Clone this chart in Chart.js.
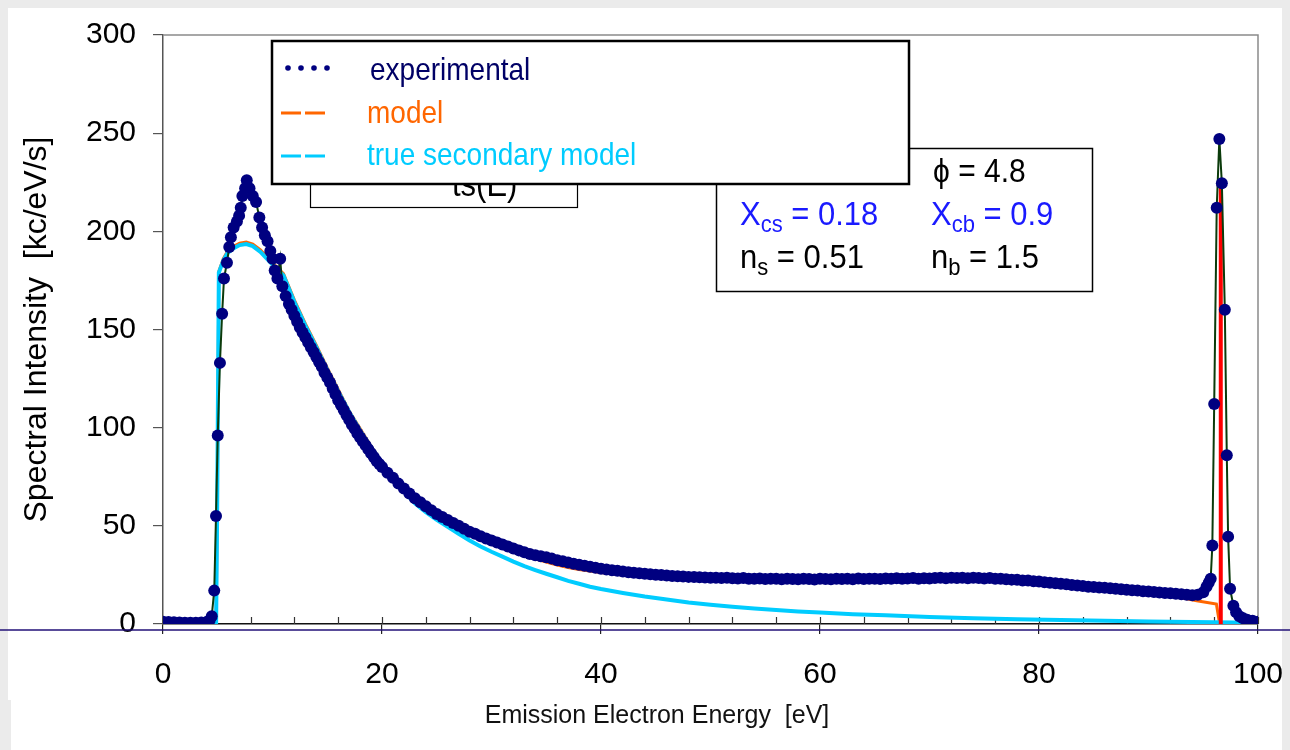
<!DOCTYPE html>
<html>
<head>
<meta charset="utf-8">
<title>Emission electron spectrum</title>
<script src="https://cdn.jsdelivr.net/npm/chart.js@4.4.1/dist/chart.umd.min.js"></script>
<style>
  html, body { margin: 0; padding: 0; background: #ebebeb; }
  canvas { display: block; }
</style>
</head>
<body>
<canvas id="spectrum" width="1290" height="750"></canvas>
<script>
// measured spectrum (energy in eV, intensity in kc/eV/s)
const expEnergy = [
  0, 0.5, 1.0, 1.5, 2.0, 2.5, 3.0, 3.5, 4.0, 4.25, 4.45, 4.68, 4.84, 5.0, 5.2, 5.4, 5.57, 5.84,
  6.05, 6.2, 6.45, 6.75, 6.95, 7.1, 7.25, 7.5, 7.65, 7.9, 8.2, 8.5, 8.8, 9.05, 9.3, 9.55, 9.8,
  10.0, 10.2, 10.45, 10.7, 10.9, 11.2, 11.5, 11.75, 12.0, 12.25, 12.5, 12.75, 13.0, 13.25, 13.5,
  13.75, 14.0, 14.25, 14.5, 14.75, 15.0, 15.25, 15.5, 15.75, 16.0, 16.25, 16.5, 16.75, 17.0,
  17.25, 17.5, 17.75, 18.0, 18.25, 18.5, 18.75, 19.0, 19.25, 19.5, 19.75, 20.0,
  20.5, 21, 21.5, 22, 22.5, 23, 23.5, 24, 24.5, 25, 25.5, 26, 26.5, 27, 27.5, 28, 28.5, 29, 29.5,
  30, 30.5, 31, 31.5, 32, 32.5, 33, 33.5, 34, 34.5, 35, 35.5, 36, 36.5, 37, 37.5, 38, 38.5, 39, 39.5,
  40, 40.5, 41, 41.5, 42, 42.5, 43, 43.5, 44, 44.5, 45, 45.5, 46, 46.5, 47, 47.5, 48, 48.5, 49, 49.5,
  50, 50.5, 51, 51.5, 52, 52.5, 53, 53.5, 54, 54.5, 55, 55.5, 56, 56.5, 57, 57.5, 58, 58.5, 59, 59.5,
  60, 60.5, 61, 61.5, 62, 62.5, 63, 63.5, 64, 64.5, 65, 65.5, 66, 66.5, 67, 67.5, 68, 68.5, 69, 69.5,
  70, 70.5, 71, 71.5, 72, 72.5, 73, 73.5, 74, 74.5, 75, 75.5, 76, 76.5, 77, 77.5, 78, 78.5, 79, 79.5,
  80, 80.5, 81, 81.5, 82, 82.5, 83, 83.5, 84, 84.5, 85, 85.5, 86, 86.5, 87, 87.5, 88, 88.5, 89, 89.5,
  90, 90.5, 91, 91.5, 92, 92.5, 93, 93.5, 94, 94.5, 95.0, 95.3, 95.5, 95.68, 95.83, 96.0, 96.23,
  96.47, 96.7, 96.97, 97.15, 97.27, 97.45, 97.75, 98.0, 98.3, 98.6, 99.0, 99.5, 100
];
const expIntensity = [
  1.2, 1.0, 0.9, 0.8, 0.7, 0.7, 0.7, 0.8, 1.0, 1.8, 4.0, 17, 55, 96, 133, 158, 176, 184,
  192, 197, 202, 205, 208, 212, 218, 222, 226, 222, 218, 215, 207, 202, 198, 195, 190,
  186, 180, 176, 186, 172, 167, 163, 160, 157, 154, 151, 148.5, 146, 143.5, 141,
  138.5, 136, 133.5, 131, 128, 125.5, 123, 120, 117, 114, 111.5, 109, 106.5, 104,
  101.5, 99.5, 97, 95, 93, 91, 89, 87, 85, 83, 81.5, 80,
  77, 74.5, 71.5, 69, 66.5, 64, 62, 60, 58, 56, 54.5, 53, 51.5, 50, 48.5, 47, 46, 44.7, 43.5,
  42.5, 41.5, 40.5, 39.5, 38.5, 37.5, 36.5, 35.7, 35, 34.5, 34, 33.3, 32.5, 32, 31.3, 30.7, 30.2, 29.7, 29.2, 28.7,
  28.2, 27.8, 27.4, 27.1, 26.7, 26.4, 26.1, 25.8, 25.6, 25.3, 25.1, 24.9, 24.7, 24.5, 24.3, 24.2, 24.0, 23.9, 23.8, 23.7,
  23.6, 23.5, 23.4, 23.6, 23.3, 23.2, 23.4, 23.1, 23.0, 23.2, 22.9, 23.1, 23.0, 22.8, 23.1, 22.9, 22.8, 23.0, 22.9, 22.7,
  23.0, 22.9, 22.8, 23.1, 22.9, 23.0, 22.8, 23.2, 22.9, 23.0, 23.1, 22.9, 23.2, 23.0, 23.3, 23.1, 23.2, 23.4, 23.1, 23.3,
  23.2, 23.4, 23.5, 23.3, 23.5, 23.4, 23.6, 23.3, 23.5, 23.4, 23.2, 23.4, 23.1, 23.0, 22.8, 22.6, 22.5, 22.2, 22.1, 21.8,
  21.6, 21.3, 21.0, 20.8, 20.5, 20.2, 19.9, 19.6, 19.3, 19.0, 18.8, 18.6, 18.4, 18.2, 18.0, 17.7, 17.5, 17.2, 17.0, 16.7,
  16.5, 16.3, 16.0, 15.8, 15.6, 15.4, 15.1, 14.9, 14.7, 14.9, 16.2, 19, 21, 23, 40, 112, 212,
  247, 224.5, 160, 86, 44.5, 18, 9.3, 6, 4, 3, 2.2, 1.6, 1.2
];

// full model curve
const modelEnergy = [
  0, 4.85, 4.95, 5.1, 5.5, 5.9, 6.5, 7.0, 7.6, 8.2, 8.9, 9.5, 10, 11, 12, 13, 14, 15, 16, 17, 18,
  19, 20, 21, 22, 23, 24, 25, 26, 27, 28, 29, 30, 31, 32, 33, 34, 35, 36, 37, 38, 39, 40, 42, 44,
  46, 48, 50, 55, 60, 65, 70, 75, 78, 80, 83, 86, 89, 92, 94.4, 96.2, 96.5, 100
];
const modelIntensity = [
  0, 0, 60, 179.5, 186, 190, 192.5, 194, 194.5, 193.5, 190.5, 187, 184, 178.5, 165, 153, 142, 130.5, 119.5, 108.5, 99.5,
  90.5, 82.5, 75.5, 69, 63.5, 59, 55, 51.8, 48.8, 46, 43.5, 41, 39, 37, 35, 33.2, 31.5, 30, 28.8, 27.8, 27, 26.2, 25, 24.3,
  23.8, 23.5, 23.3, 23, 22.9, 22.9, 23, 22.8, 22, 21.2, 19.6, 18, 16.4, 14.5, 11.8, 10.2, 0, 0
];

// true secondary part of the model
const secEnergy = [
  0, 4.85, 4.95, 5.1, 5.5, 5.9, 6.5, 7.0, 7.6, 8.2, 8.9, 9.5, 10, 11, 12, 13, 14, 15, 16, 17, 18,
  19, 20, 21, 22, 23, 24, 25, 26, 27, 28, 29, 30, 31, 32, 33, 34, 35, 36, 37, 38, 39, 40, 42, 44,
  46, 48, 50, 52, 54, 56, 58, 60, 63, 66, 70, 74, 78, 82, 86, 90, 94, 98, 100
];
const secIntensity = [
  0, 0, 60, 179, 185, 189, 191.5, 193, 193.5, 192.5, 189.5, 186, 183, 177.5, 164, 152, 141, 129.5, 118.5, 108, 98.5,
  90, 82, 74.5, 67.5, 61.5, 57, 53, 49.5, 46, 42.5, 39.5, 36.8, 34.3, 31.8, 29.5, 27.5, 25.6, 23.8, 22, 20.5, 19, 17.8, 15.8, 14,
  12.5, 11, 9.8, 8.8, 7.9, 7.1, 6.4, 5.8, 5, 4.4, 3.6, 2.9, 2.4, 2.1, 1.7, 1.3, 1.0, 0.8, 0.7
];

// elastic line of the model
const elasticEnergy = [96.6, 96.6];
const elasticIntensity = [0, 223];

const xTicks = [0, 20, 40, 60, 80, 100];
const yTicks = [0, 50, 100, 150, 200, 250, 300];

const FONT = "'Liberation Sans', Arial, sans-serif";

function pairs(xs, ys) {
  return xs.map((x, i) => ({ x: x, y: ys[i] }));
}

// grey page edge with the white sheet on top
const sheetPlugin = {
  id: 'sheet',
  beforeDraw(chart) {
    const ctx = chart.ctx;
    ctx.save();
    ctx.fillStyle = '#ebebeb';
    ctx.fillRect(0, 0, chart.width, chart.height);
    ctx.fillStyle = '#ffffff';
    ctx.fillRect(8, 8, 1274, 692);
    ctx.fillRect(11, 700, 1271, 50);
    ctx.restore();
  }
};

// plot frame: grey top/right edges, minor ticks and inner half of the major x ticks
const framePlugin = {
  id: 'frame',
  beforeDatasetsDraw(chart) {
    const { ctx, chartArea: { left, right, top, bottom } } = chart;
    const xs = chart.scales.x;
    ctx.save();
    ctx.strokeStyle = '#8a8a8a';
    ctx.lineWidth = 1.5;
    ctx.beginPath();
    ctx.moveTo(left, top);
    ctx.lineTo(right, top);
    ctx.lineTo(right, bottom);
    ctx.stroke();

    ctx.strokeStyle = '#333';
    ctx.lineWidth = 1.2;
    ctx.beginPath();
    for (let v = 4; v < 100; v += 4) {
      const px = Math.round(xs.getPixelForValue(v)) + 0.5;
      ctx.moveTo(px, bottom);
      ctx.lineTo(px, bottom - 7);
    }
    xTicks.forEach(v => {
      const px = Math.round(xs.getPixelForValue(v)) + 0.5;
      ctx.moveTo(px, bottom);
      ctx.lineTo(px, bottom - 7);
    });
    ctx.stroke();
    ctx.restore();
  }
};

// text stretched a little upward, like the rest of the lettering
function tallText(ctx, text, x, y, size, stretch) {
  ctx.save();
  ctx.translate(x, y);
  ctx.scale(1, stretch);
  ctx.font = size + 'px ' + FONT;
  ctx.fillText(text, 0, 0);
  ctx.restore();
  ctx.font = size + 'px ' + FONT;
  return ctx.measureText(text).width;
}

function textWithSub(ctx, x, y, main, sub, rest, color) {
  ctx.fillStyle = color;
  let cx = x + tallText(ctx, main, x, y, 31, 1.08);
  cx += tallText(ctx, sub, cx, y + 7, 22, 1.08);
  tallText(ctx, rest, cx, y, 31, 1.08);
}

// parameter boxes, legend, x title and the long rule under the axis
const overlayPlugin = {
  id: 'overlay',
  afterDraw(chart) {
    const ctx = chart.ctx;
    ctx.save();
    ctx.textBaseline = 'alphabetic';
    ctx.textAlign = 'left';

    // box partly hidden by the legend
    ctx.fillStyle = '#fff';
    ctx.fillRect(310, 140, 268, 68);
    ctx.strokeStyle = '#000';
    ctx.lineWidth = 1.2;
    ctx.strokeRect(310.5, 140.5, 267, 67);
    ctx.fillStyle = '#000';
    tallText(ctx, 'ts(E)', 452, 196, 31, 1.12);

    // fit parameters
    ctx.fillStyle = '#fff';
    ctx.fillRect(716, 148, 377, 144);
    ctx.strokeStyle = '#000';
    ctx.lineWidth = 1.5;
    ctx.strokeRect(716.5, 148.5, 376, 143);
    ctx.fillStyle = '#000';
    tallText(ctx, '\u03D5 = 4.8', 933, 182, 30, 1.08);
    textWithSub(ctx, 740, 225, 'X', 'cs', ' = 0.18', '#1a1aff');
    textWithSub(ctx, 931, 225, 'X', 'cb', ' = 0.9', '#1a1aff');
    textWithSub(ctx, 740, 268, 'n', 's', ' = 0.51', '#000');
    textWithSub(ctx, 931, 268, 'n', 'b', ' = 1.5', '#000');

    // legend
    ctx.fillStyle = '#fff';
    ctx.fillRect(271, 40, 639, 145);
    ctx.strokeStyle = '#000';
    ctx.lineWidth = 2.5;
    ctx.strokeRect(272, 41, 637, 143);

    ctx.fillStyle = '#000080';
    [288, 301, 314, 327].forEach(x => {
      ctx.beginPath();
      ctx.arc(x, 68, 2.8, 0, Math.PI * 2);
      ctx.fill();
    });
    ctx.lineWidth = 3;
    [['#ff6600', 113], ['#00ccff', 156]].forEach(([c, y]) => {
      ctx.strokeStyle = c;
      ctx.beginPath();
      ctx.moveTo(281, y); ctx.lineTo(301, y);
      ctx.moveTo(305, y); ctx.lineTo(325, y);
      ctx.stroke();
    });
    ctx.fillStyle = '#000066';
    tallText(ctx, 'experimental', 370, 80, 28, 1.13);
    ctx.fillStyle = '#ff6600';
    tallText(ctx, 'model', 367, 123, 28, 1.13);
    ctx.fillStyle = '#00ccff';
    tallText(ctx, 'true secondary model', 367, 165, 28, 1.13);

    // x axis title
    ctx.fillStyle = '#111';
    ctx.font = '25px ' + FONT;
    ctx.textAlign = 'center';
    ctx.textBaseline = 'middle';
    ctx.fillText('Emission Electron Energy  [eV]', 657, 716);

    // long rule across the sheet
    ctx.strokeStyle = '#221177';
    ctx.lineWidth = 1.5;
    ctx.beginPath();
    ctx.moveTo(0, 630);
    ctx.lineTo(chart.width, 630);
    ctx.stroke();
    ctx.restore();
  }
};

const ctx = document.getElementById('spectrum').getContext('2d');
new Chart(ctx, {
  type: 'line',
  plugins: [sheetPlugin, framePlugin, overlayPlugin],
  data: {
    datasets: [
      {
        label: 'experimental',
        data: pairs(expEnergy, expIntensity),
        borderColor: '#0b3b0b',
        borderWidth: 2,
        pointRadius: 6,
        pointHoverRadius: 6,
        pointBackgroundColor: '#000080',
        pointBorderWidth: 0,
        order: 0
      },
      {
        label: 'elastic',
        data: pairs(elasticEnergy, elasticIntensity),
        borderColor: '#ff0000',
        borderWidth: 4,
        pointRadius: 0,
        order: 1
      },
      {
        label: 'true secondary model',
        data: pairs(secEnergy, secIntensity),
        borderColor: '#00ccff',
        borderWidth: 4,
        pointRadius: 0,
        order: 2
      },
      {
        label: 'model',
        data: pairs(modelEnergy, modelIntensity),
        borderColor: '#ff6600',
        borderWidth: 3,
        pointRadius: 0,
        order: 3
      }
    ]
  },
  options: {
    responsive: false,
    devicePixelRatio: 1,
    animation: false,
    events: [],
    layout: { padding: { left: 0, top: 34, right: 32, bottom: 0 } },
    plugins: {
      legend: { display: false },
      tooltip: { enabled: false }
    },
    scales: {
      x: {
        type: 'linear',
        min: 0,
        max: 100,
        afterBuildTicks: s => { s.ticks = xTicks.map(v => ({ value: v })); },
        afterFit: s => { s.height = 126; s.paddingLeft = 0; s.paddingRight = 0; },
        ticks: {
          color: '#000',
          padding: 23,
          maxRotation: 0,
          font: { family: FONT, size: 30 }
        },
        grid: { drawOnChartArea: false, tickLength: 10, color: '#222', lineWidth: 1.2 },
        border: { color: '#111', width: 1.5 }
      },
      y: {
        type: 'linear',
        min: 0,
        max: 300,
        afterBuildTicks: s => { s.ticks = yTicks.map(v => ({ value: v })); },
        afterFit: s => { s.width = 163; },
        ticks: {
          color: '#000',
          padding: 17,
          font: { family: FONT, size: 30 }
        },
        grid: { drawOnChartArea: false, tickLength: 10, color: '#555', lineWidth: 1.2 },
        border: { color: '#555', width: 1.5 },
        title: {
          display: true,
          text: 'Spectral Intensity  [kc/eV/s]',
          color: '#000',
          font: { family: FONT, size: 32 },
          padding: { top: 18, bottom: 0 }
        }
      }
    }
  }
});
</script>
</body>
</html>
